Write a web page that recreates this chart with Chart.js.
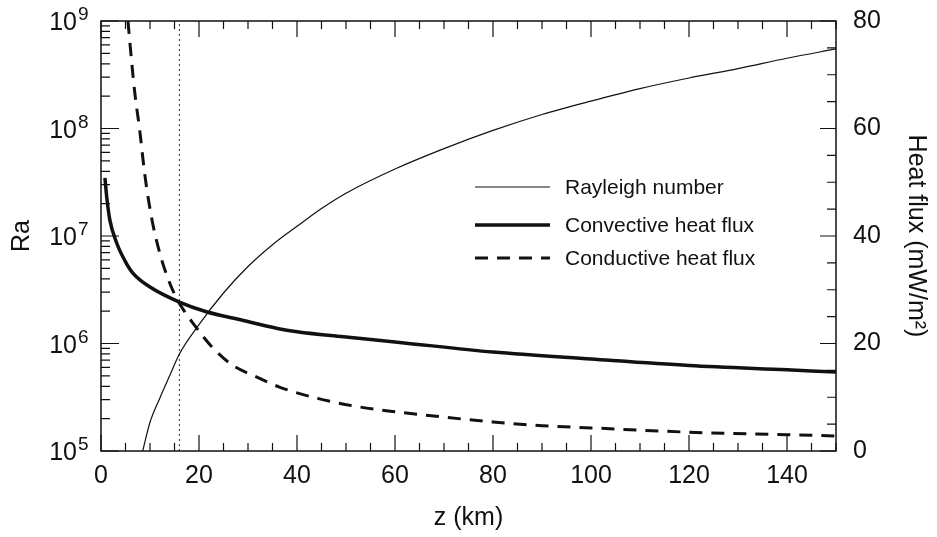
<!DOCTYPE html>
<html>
<head>
<meta charset="utf-8">
<title>Rayleigh number and heat flux vs depth</title>
<script src="https://cdn.jsdelivr.net/npm/chart.js@4.4.0/dist/chart.umd.min.js"></script>
<style>
    body { margin: 0; background: #fff; }
</style>
</head>
<body>
<canvas id="myChart" width="937" height="537"></canvas>
<script>
// values (depth in km)
var raDepth = [8.5, 10, 12, 14, 16, 20, 25, 30, 35, 40, 45, 50, 60, 70, 80, 90, 100, 110, 120, 130, 140, 150];
var raValues = [1.0e5, 1.85e5, 3.1e5, 5.0e5, 8.0e5, 1.5e6, 2.95e6, 5.2e6, 8.3e6, 1.23e7, 1.8e7, 2.5e7, 4.2e7, 6.5e7, 9.6e7, 1.35e8, 1.8e8, 2.35e8, 2.95e8, 3.6e8, 4.5e8, 5.5e8];

var convDepth = [0.8, 1.2, 1.8, 3.2, 5, 6.5, 10, 16, 21.5, 28, 36, 40, 50, 60, 80, 100, 120, 140, 150];
var convFlux = [50.8, 47, 43, 38.7, 35.2, 33.1, 30.5, 27.7, 25.9, 24.5, 22.8, 22.2, 21.2, 20.3, 18.4, 17.1, 15.9, 15.1, 14.7];

var condDepth = [5.5, 6.3, 6.9, 7.9, 8.9, 10.3, 12, 14, 16, 19.5, 22.8, 26.8, 31.7, 36.4, 44.6, 52.7, 60, 70, 80, 90, 100, 120, 150];
var condFlux = [80, 72, 66.6, 59.7, 51.7, 43.5, 36.8, 31.3, 27.5, 22.9, 19.2, 16, 13.8, 11.9, 9.7, 8.2, 7.3, 6.3, 5.4, 4.7, 4.3, 3.5, 2.8];

var markerDepth = 16;
var raExponents = [5, 6, 7, 8, 9];

var FONT = "'Liberation Sans', Arial, Helvetica, sans-serif";
var INK = '#111';

function toPoints(xs, ys) {
    var pts = [];
    for (var i = 0; i < xs.length; i++) {
        pts.push({ x: xs[i], y: ys[i] });
    }
    return pts;
}

// fixed axis boxes so the plot area sits where the figure has it
function pinScale(size) {
    return function (s) {
        if (s.isHorizontal()) s.height = size; else s.width = size;
        s.paddingTop = 0; s.paddingBottom = 0;
        s.paddingLeft = 0; s.paddingRight = 0;
    };
}

// inward ticks, frame and the 10^n labels
var frameTicks = {
    id: 'frameTicks',
    afterDatasetsDraw: function (chart) {
        var ctx = chart.ctx;
        var area = chart.chartArea;
        var x = chart.scales.x, ra = chart.scales.ra, flux = chart.scales.flux;
        ctx.save();
        ctx.strokeStyle = INK;
        ctx.lineWidth = 1.5;
        ctx.strokeRect(area.left, area.top, area.right - area.left, area.bottom - area.top);

        ctx.lineWidth = 1.2;
        ctx.beginPath();
        for (var v = 0; v <= 150; v += 5) {
            var px = x.getPixelForValue(v);
            var len = (v % 20 === 0) ? 16 : 8;
            ctx.moveTo(px, area.bottom); ctx.lineTo(px, area.bottom - len);
            ctx.moveTo(px, area.top); ctx.lineTo(px, area.top + len);
        }
        for (var e = 5; e <= 9; e++) {
            for (var m = 1; m <= 9; m++) {
                if (e === 9 && m > 1) break;
                var py = ra.getPixelForValue(m * Math.pow(10, e));
                var l = (m === 1) ? 18 : 9;
                ctx.moveTo(area.left, py); ctx.lineTo(area.left + l, py);
            }
        }
        for (var f = 0; f <= 80; f += 5) {
            var fy = flux.getPixelForValue(f);
            var fl = (f % 20 === 0) ? 16 : 9;
            ctx.moveTo(area.right, fy); ctx.lineTo(area.right - fl, fy);
        }
        ctx.stroke();

        ctx.fillStyle = INK;
        raExponents.forEach(function (ex) {
            var y = ra.getPixelForValue(Math.pow(10, ex));
            ctx.font = '25px ' + FONT;
            ctx.textAlign = 'right';
            ctx.textBaseline = 'alphabetic';
            ctx.fillText('10', 77, y + 9);
            ctx.font = '19px ' + FONT;
            ctx.textAlign = 'left';
            ctx.fillText(String(ex), 78, y - 1);
        });
        ctx.restore();
    }
};

// legend drawn inside the plot
var innerLegend = {
    id: 'innerLegend',
    afterDraw: function (chart) {
        var ctx = chart.ctx;
        var rows = [187, 225, 258];
        ctx.save();
        for (var i = 0; i < 3; i++) {
            var ds = chart.data.datasets[i];
            ctx.strokeStyle = ds.borderColor;
            ctx.lineWidth = ds.borderWidth;
            ctx.setLineDash(ds.borderDash || []);
            ctx.beginPath();
            ctx.moveTo(475, rows[i]);
            ctx.lineTo(550, rows[i]);
            ctx.stroke();
            ctx.setLineDash([]);
            ctx.fillStyle = INK;
            ctx.font = '21px ' + FONT;
            ctx.textAlign = 'left';
            ctx.textBaseline = 'middle';
            ctx.fillText(ds.label, 565, rows[i] + 1);
        }
        ctx.restore();
    }
};

var ctx = document.getElementById('myChart').getContext('2d');
var myChart = new Chart(ctx, {
    type: 'line',
    data: {
        datasets: [{
            label: 'Rayleigh number',
            data: toPoints(raDepth, raValues),
            yAxisID: 'ra',
            borderColor: INK,
            borderWidth: 1.2,
            pointRadius: 0,
            cubicInterpolationMode: 'monotone'
        }, {
            label: 'Convective heat flux',
            data: toPoints(convDepth, convFlux),
            yAxisID: 'flux',
            borderColor: INK,
            borderWidth: 3.5,
            pointRadius: 0,
            cubicInterpolationMode: 'monotone'
        }, {
            label: 'Conductive heat flux',
            data: toPoints(condDepth, condFlux),
            yAxisID: 'flux',
            borderColor: INK,
            borderWidth: 3,
            borderDash: [13, 9],
            pointRadius: 0,
            cubicInterpolationMode: 'monotone'
        }, {
            label: '',
            data: [{ x: markerDepth, y: 1e5 }, { x: markerDepth, y: 1e9 }],
            yAxisID: 'ra',
            borderColor: '#333',
            borderWidth: 1,
            borderDash: [2, 3],
            pointRadius: 0
        }]
    },
    options: {
        responsive: false,
        animation: false,
        layout: { padding: { top: 21, left: 0, right: 0, bottom: 0 } },
        plugins: {
            legend: { display: false },
            tooltip: { enabled: false }
        },
        scales: {
            x: {
                type: 'linear',
                position: 'bottom',
                min: 0,
                max: 150,
                afterFit: pinScale(86),
                grid: { display: false, drawTicks: false },
                border: { display: false },
                ticks: {
                    stepSize: 20,
                    includeBounds: false,
                    padding: 10,
                    maxRotation: 0,
                    autoSkip: false,
                    color: INK,
                    font: { family: FONT, size: 25 }
                },
                title: {
                    display: true,
                    text: 'z (km)',
                    color: INK,
                    font: { family: FONT, size: 25 },
                    padding: { top: 0, bottom: 4 }
                }
            },
            ra: {
                type: 'logarithmic',
                position: 'left',
                min: 1e5,
                max: 1e9,
                afterFit: pinScale(101),
                grid: { display: false, drawTicks: false },
                border: { display: false },
                ticks: { display: false },
                title: {
                    display: true,
                    text: 'Ra',
                    color: INK,
                    font: { family: FONT, size: 25 },
                    padding: { top: 7, bottom: 0 }
                }
            },
            flux: {
                type: 'linear',
                position: 'right',
                min: 0,
                max: 80,
                afterFit: pinScale(101),
                grid: { display: false, drawTicks: false },
                border: { display: false },
                ticks: {
                    stepSize: 20,
                    padding: 17,
                    color: INK,
                    font: { family: FONT, size: 25 }
                },
                title: {
                    display: true,
                    text: 'Heat flux (mW/m²)',
                    color: INK,
                    font: { family: FONT, size: 25 },
                    padding: { top: 6, bottom: 0 }
                }
            }
        }
    },
    plugins: [frameTicks, innerLegend]
});
</script>
</body>
</html>
